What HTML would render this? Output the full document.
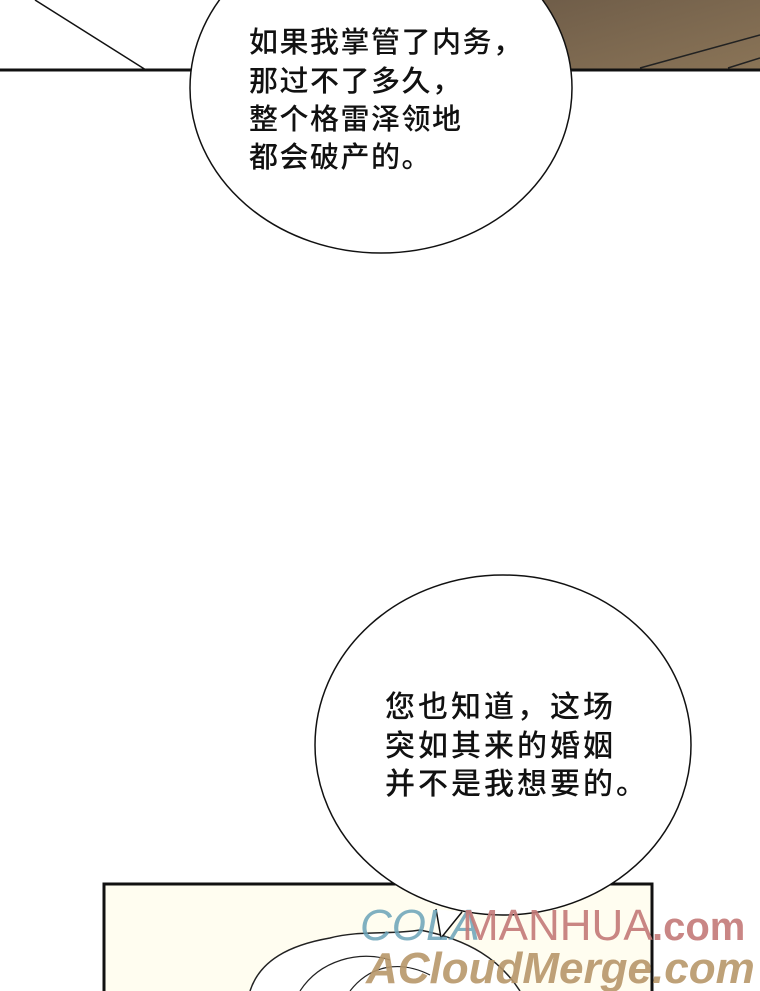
<!DOCTYPE html>
<html><head><meta charset="utf-8"><style>
body{margin:0;width:760px;height:991px;overflow:hidden;background:#fff}
svg{display:block}
text{font-family:"Liberation Sans","Noto Sans CJK SC",sans-serif}
</style></head><body>
<svg width="760" height="991" viewBox="0 0 760 991">
<defs><linearGradient id="br" x1="0" y1="0" x2="1" y2="1"><stop offset="0" stop-color="#6e5c48"/><stop offset="1" stop-color="#8a7457"/></linearGradient></defs>
<rect x="520" y="0" width="240" height="70" fill="url(#br)"/>
<line x1="640" y1="68" x2="760" y2="35" stroke="#222" stroke-width="1.5"/>
<line x1="728" y1="68" x2="760" y2="58" stroke="#222" stroke-width="1.5"/>
<line x1="35" y1="0" x2="146" y2="70" stroke="#111" stroke-width="1.5"/>
<line x1="0" y1="70" x2="760" y2="70" stroke="#111" stroke-width="3"/>
<ellipse cx="381" cy="88" rx="191" ry="165" fill="#fff" stroke="#111" stroke-width="1.5"/>
<g font-size="29" fill="#111" font-weight="500" letter-spacing="1.5">
<text x="249" y="52">如果我掌管了内务，</text>
<text x="249" y="91">那过不了多久，</text>
<text x="249" y="129">整个格雷泽领地</text>
<text x="249" y="167">都会破产的。</text>
</g>
<rect x="104" y="884" width="548" height="120" fill="#fffdf0" stroke="#111" stroke-width="3"/>
<path d="M250 991 C260 960 290 945 330 938 C360 930 390 935 420 930 C470 940 500 960 520 991" fill="#fff" stroke="#222" stroke-width="1.5"/>
<path d="M300 991 C320 960 360 950 390 960 M350 991 C370 965 400 960 430 975" fill="none" stroke="#222" stroke-width="1.2"/>
<ellipse cx="503" cy="745" rx="188" ry="170" fill="#fff" stroke="#111" stroke-width="1.5"/>
<path d="M436 909 L441 938 L462 912" fill="#fff" stroke="#111" stroke-width="1.5"/>
<g font-size="30" fill="#111" font-weight="500" letter-spacing="3">
<text x="385" y="717">您也知道，这场</text>
<text x="385" y="756">突如其来的婚姻</text>
<text x="385" y="794">并不是我想要的。</text>
</g>
<text x="360" y="940" font-size="44" font-family="Liberation Serif,serif" font-style="italic" fill="#6aa3b8" opacity="0.85">COLA</text>
<text x="462" y="940" font-size="44" font-family="Liberation Serif,serif" fill="#c47a78" opacity="0.9">MANHUA</text>
<text x="652" y="940" font-size="40" font-weight="bold" font-family="Liberation Sans,sans-serif" fill="#c47a78" opacity="0.9">.com</text>
<text x="366" y="983" font-size="44" font-weight="bold" font-style="italic" font-family="Liberation Sans,sans-serif" fill="#b8976a" opacity="0.9">ACloudMerge.com</text>
</svg>
</body></html>
